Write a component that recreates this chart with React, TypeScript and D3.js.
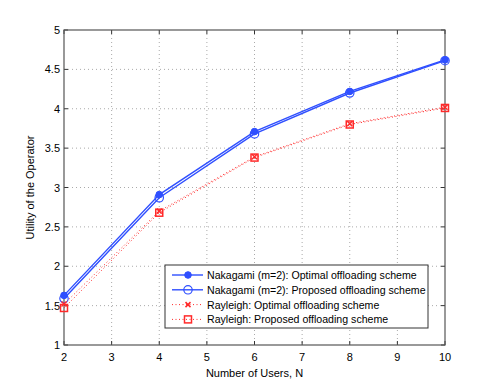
import React from 'react';
import * as d3 from 'd3';

const users = [2, 4, 6, 8, 10];
const nakOptimal = [1.63, 2.91, 3.71, 4.22, 4.62];
const nakProposed = [1.59, 2.87, 3.68, 4.20, 4.61];
const rayOptimal = [1.52, 2.70, 3.39, 3.81, 4.02];
const rayProposed = [1.47, 2.68, 3.38, 3.80, 4.01];
const xTicks = [2, 3, 4, 5, 6, 7, 8, 9, 10];
const yTicks = [1, 1.5, 2, 2.5, 3, 3.5, 4, 4.5, 5];
const legendLabels = [
  'Nakagami (m=2): Optimal offloading scheme',
  'Nakagami (m=2): Proposed offloading scheme',
  'Rayleigh: Optimal offloading scheme',
  'Rayleigh: Proposed offloading scheme',
];

const BLUE = '#2f4fff';
const RED = '#ff2a2a';
const FONT = 'Liberation Sans, Arial, sans-serif';

const margin = { left: 64, top: 30, right: 46, bottom: 43 };
const W = 491;
const H = 388;
const iw = W - margin.left - margin.right;
const ih = H - margin.top - margin.bottom;

const Marker = ({ kind, x, y }: { kind: string; x: number; y: number }) => {
  if (kind === 'dot') return <circle cx={x} cy={y} r={3.3} fill={BLUE} stroke={BLUE} />;
  if (kind === 'circle') return <circle cx={x} cy={y} r={4.2} fill="none" stroke={BLUE} strokeWidth={1.2} />;
  if (kind === 'x')
    return (
      <path d={`M${x - 2.5},${y - 2.5}L${x + 2.5},${y + 2.5}M${x - 2.5},${y + 2.5}L${x + 2.5},${y - 2.5}`} stroke={RED} strokeWidth={1.5} />
    );
  return <rect x={x - 3.5} y={y - 3.5} width={7} height={7} fill="none" stroke={RED} strokeWidth={1.5} />;
};

export default function App() {
  const x = d3.scaleLinear().domain([2, 10]).range([0, iw]);
  const y = d3.scaleLinear().domain([1, 5]).range([ih, 0]);
  const line = d3
    .line<number>()
    .x((_, i) => x(users[i]))
    .y((d) => y(d));

  const series = [
    { values: nakOptimal, color: BLUE, width: 1.4, dash: undefined, marker: 'dot' },
    { values: nakProposed, color: BLUE, width: 1.4, dash: undefined, marker: 'circle' },
    { values: rayOptimal, color: RED, width: 1, dash: '1,2.5', marker: 'x' },
    { values: rayProposed, color: RED, width: 1, dash: '1,2.5', marker: 'square' },
  ];

  const lg = { x: 165 - margin.left, y: 265 - margin.top, w: 263, h: 63 };

  return (
    <svg width={W} height={H} style={{ position: 'absolute', left: 0, top: 0, background: '#fff' }}>
      <g transform={`translate(${margin.left},${margin.top})`} fontFamily={FONT}>
        {/* grid */}
        {xTicks.slice(1, -1).map((t) => (
          <line key={'gx' + t} x1={x(t)} x2={x(t)} y1={0} y2={ih} stroke="#aaa" strokeDasharray="1,3" />
        ))}
        {yTicks.slice(1, -1).map((t) => (
          <line key={'gy' + t} x1={0} x2={iw} y1={y(t)} y2={y(t)} stroke="#aaa" strokeDasharray="1,3" />
        ))}
        {/* ticks */}
        {xTicks.map((t) => (
          <g key={'tx' + t}>
            <line x1={x(t)} x2={x(t)} y1={ih} y2={ih - 4} stroke="#333" />
            <line x1={x(t)} x2={x(t)} y1={0} y2={4} stroke="#333" />
            <text x={x(t)} y={ih + 16} textAnchor="middle" fontSize={11}>
              {t}
            </text>
          </g>
        ))}
        {yTicks.map((t) => (
          <g key={'ty' + t}>
            <line x1={0} x2={4} y1={y(t)} y2={y(t)} stroke="#333" />
            <line x1={iw} x2={iw - 4} y1={y(t)} y2={y(t)} stroke="#333" />
            <text x={-4} y={y(t) + 4} textAnchor="end" fontSize={11}>
              {t}
            </text>
          </g>
        ))}
        <rect x={0} y={0} width={iw} height={ih} fill="none" stroke="#555" strokeWidth={1.2} />

        {/* series */}
        {series.map((s, k) => (
          <g key={'s' + k}>
            <path d={line(s.values) || ''} fill="none" stroke={s.color} strokeWidth={s.width} strokeDasharray={s.dash} />
            {s.values.map((v, i) => (
              <Marker key={i} kind={s.marker} x={x(users[i])} y={y(v)} />
            ))}
          </g>
        ))}

        {/* legend */}
        <rect x={lg.x} y={lg.y} width={lg.w} height={lg.h} fill="#fff" stroke="#333" strokeWidth={1} />
        {series.map((s, k) => {
          const ry = lg.y + 10 + k * 14.8;
          return (
            <g key={'l' + k}>
              <line x1={lg.x + 7} x2={lg.x + 38} y1={ry} y2={ry} stroke={s.color} strokeWidth={s.width} strokeDasharray={s.dash} />
              <Marker kind={s.marker} x={lg.x + 23} y={ry} />
              <text x={lg.x + 42} y={ry + 4} fontSize={10.6}>
                {legendLabels[k]}
              </text>
            </g>
          );
        })}

        {/* axis labels */}
        <text x={iw / 2} y={ih + 32} textAnchor="middle" fontSize={11}>
          Number of Users, N
        </text>
        <text transform={`translate(${-30},${ih / 2}) rotate(-90)`} textAnchor="middle" fontSize={11}>
          Utility of the Operator
        </text>
      </g>
    </svg>
  );
}
